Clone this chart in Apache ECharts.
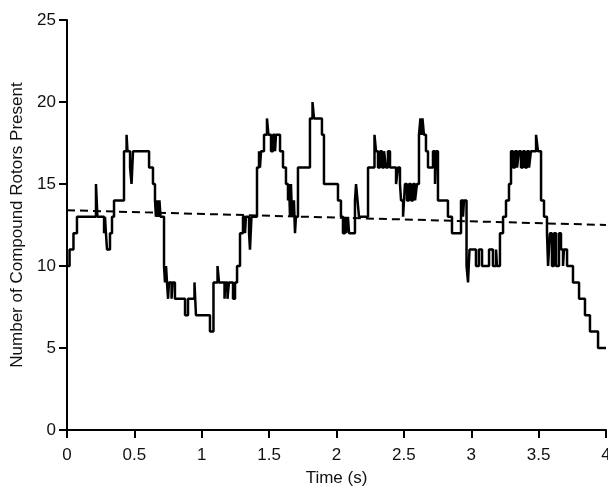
<!DOCTYPE html>
<html>
<head>
<meta charset="utf-8">
<script src="https://cdn.jsdelivr.net/npm/echarts@6/dist/echarts.min.js"></script>
<style>
  html, body { margin: 0; padding: 0; background: #fff; overflow: hidden; }
  #rotor-chart { width: 608px; height: 487px; }
</style>
</head>
<body>
<div id="rotor-chart"></div>
<script>
// ==============================================================
// Compound rotors over time (step trace + linear trend)
// ==============================================================

// time (s) at which each count starts
var stepTimes = [
  0, 0.019, 0.048, 0.074, 0.215, 0.226, 0.275, 0.282, 0.289, 0.297,
  0.319, 0.334, 0.349, 0.423, 0.442, 0.449, 0.468, 0.479, 0.490, 0.609,
  0.638, 0.653, 0.660, 0.668, 0.675, 0.686, 0.694, 0.720, 0.727, 0.735,
  0.742, 0.750, 0.757, 0.776, 0.783, 0.801, 0.876, 0.898, 0.946, 0.957,
  1.061, 1.087, 1.117, 1.128, 1.169, 1.176, 1.191, 1.202, 1.232, 1.247,
  1.262, 1.284, 1.306, 1.321, 1.328, 1.351, 1.358, 1.369, 1.410, 1.425,
  1.432, 1.440, 1.462, 1.484, 1.495, 1.514, 1.529, 1.544, 1.551, 1.581,
  1.603, 1.625, 1.640, 1.648, 1.655, 1.662, 1.670, 1.684, 1.692, 1.699,
  1.714, 1.803, 1.822, 1.833, 1.892, 1.907, 2.011, 2.033, 2.048, 2.063,
  2.071, 2.085, 2.093, 2.137, 2.145, 2.156, 2.167, 2.234, 2.282, 2.293,
  2.308, 2.323, 2.338, 2.353, 2.367, 2.382, 2.397, 2.442, 2.456, 2.471,
  2.479, 2.494, 2.508, 2.523, 2.538, 2.553, 2.568, 2.583, 2.597, 2.612,
  2.623, 2.631, 2.638, 2.649, 2.664, 2.679, 2.716, 2.731, 2.738, 2.753,
  2.827, 2.857, 2.924, 2.939, 2.946, 2.965, 2.976, 2.987, 3.035, 3.057,
  3.080, 3.132, 3.161, 3.184, 3.191, 3.213, 3.236, 3.258, 3.280, 3.295,
  3.310, 3.325, 3.340, 3.354, 3.369, 3.384, 3.399, 3.414, 3.429, 3.443,
  3.481, 3.495, 3.518, 3.540, 3.562, 3.570, 3.584, 3.599, 3.614, 3.629,
  3.651, 3.666, 3.681, 3.688, 3.711, 3.755, 3.800, 3.844, 3.881, 3.941,
  4.0
];

// number of compound rotors present from that time on
var stepCounts = [
  10, 11, 12, 13, 15, 13, 12, 13, 12, 11,
  12, 13, 14, 17, 18, 17, 16, 15, 17, 16,
  15, 14, 13, 14, 13, 14, 13, 10, 9, 10,
  9, 8, 9, 8, 9, 8, 7, 8, 9, 7,
  6, 9, 10, 9, 8, 9, 8, 9, 8, 9,
  10, 12, 13, 12, 13, 12, 11, 13, 16, 17,
  16, 17, 18, 19, 18, 17, 18, 17, 18, 17,
  16, 15, 14, 15, 13, 15, 13, 14, 12, 13,
  16, 19, 20, 19, 18, 15, 14, 13, 12, 13,
  12, 13, 12, 14, 15, 14, 13, 16, 18, 17,
  16, 17, 16, 17, 16, 17, 16, 15, 16, 15,
  14, 13, 15, 14, 15, 14, 15, 14, 15, 18,
  19, 18, 19, 18, 17, 16, 17, 15, 17, 14,
  13, 12, 14, 13, 14, 10, 9, 11, 10, 11,
  10, 11, 10, 11, 10, 12, 13, 14, 15, 17,
  16, 17, 16, 17, 16, 17, 16, 17, 16, 17,
  18, 17, 14, 13, 12, 10, 12, 10, 12, 10,
  12, 11, 10, 11, 10, 9, 8, 7, 6, 5,
  5
];

// dashed trend line end points
var trendTimes = [0, 4];
var trendCounts = [13.4, 12.5];

var xTicks = {min: 0, max: 4, interval: 0.5};
var yTicks = {min: 0, max: 25, interval: 5};

var myChart = echarts.init(document.getElementById('rotor-chart'));

var font = "'Liberation Sans', Arial, sans-serif";
var axisText = {color: '#111', fontSize: 17, fontFamily: font};

option = {
    animation: false,
    grid: {left: 67, right: 2, top: 20, bottom: 57, outerBoundsMode: 'none', containLabel: false},
    xAxis: {
        type: 'value',
        min: xTicks.min,
        max: xTicks.max,
        interval: xTicks.interval,
        name: 'Time (s)',
        nameLocation: 'middle',
        nameGap: 40,
        nameTextStyle: axisText,
        axisLine: {lineStyle: {color: '#000', width: 2}},
        axisTick: {length: 8, lineStyle: {color: '#000', width: 2}},
        axisLabel: Object.assign({margin: 17}, axisText),
        splitLine: {show: false}
    },
    yAxis: {
        type: 'value',
        min: yTicks.min,
        max: yTicks.max,
        interval: yTicks.interval,
        name: 'Number of Compound Rotors Present',
        nameLocation: 'middle',
        nameGap: 40,
        nameTextStyle: axisText,
        axisLine: {show: true, lineStyle: {color: '#000', width: 2}},
        axisTick: {show: true, length: 8, lineStyle: {color: '#000', width: 2}},
        axisLabel: Object.assign({margin: 11}, axisText),
        splitLine: {show: false}
    },
    series: [
        {
            name: 'Rotors',
            type: 'line',
            step: 'end',
            symbol: 'none',
            lineStyle: {color: '#000', width: 2.5},
            data: stepTimes.map(function (t, i) { return [t, stepCounts[i]]; })
        },
        {
            name: 'Trend',
            type: 'line',
            symbol: 'none',
            lineStyle: {color: '#000', width: 2, type: [8, 5]},
            data: trendTimes.map(function (t, i) { return [t, trendCounts[i]]; })
        }
    ]
};

myChart.setOption(option, true);
</script>
</body>
</html>
